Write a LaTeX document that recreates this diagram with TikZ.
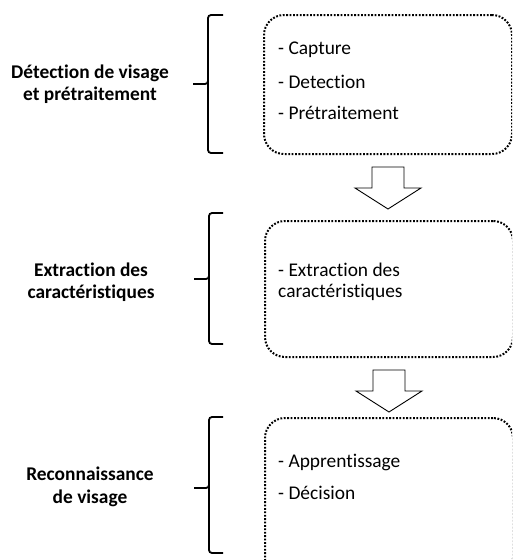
\documentclass[tikz,border=0pt]{standalone}
\usepackage{fontspec}
\setmainfont{Carlito}[Ligatures=NoCommon]
\usetikzlibrary{calc}

\begin{document}
\begin{tikzpicture}[x=1pt, y=-1pt, font=\fontsize{19.4}{22}\selectfont,
    stage/.style={draw, line width=2pt, dash pattern=on 1.8pt off 1.6pt, rounded corners=20pt, minimum width=248pt, anchor=north west, inner sep=0pt},
    item/.style={anchor=west, inner sep=0pt, align=left},
    phase/.style={align=center, font=\fontsize{19.4}{22.5}\selectfont\bfseries, inner sep=0pt},
    brace/.style={line width=1.8pt, rounded corners=3pt},
    flow/.style={draw, line width=0.9pt, fill=white}]

  \useasboundingbox (0,0) rectangle (512,560);
  \clip (0,0) rectangle (512,560);

  % stages
  \node[stage, minimum height=139pt] (b1) at (263,14) {};
  \node[stage, minimum height=136pt] (b2) at (264,220) {};
  \node[stage, minimum height=160pt] (b3) at (264,417) {};

  % contents
  \node[item] (c1) at (278,50) {- Capture};
  \node[item] (c2) at (278,82) {- Detection};
  \node[item] (c3) at (278,113) {- Prétraitement};
  \node[item] (e1) at (278,270) {- Extraction des};
  \node[item] (e2) at (278,292) {caractéristiques};
  \node[item] (r1) at (278,462) {- Apprentissage};
  \node[item] (r2) at (278,493) {- Décision};

  % phases
  \node[phase] (p1) at (90,84) {Détection de visage\\et prétraitement};
  \node[phase] (p2) at (91,282) {Extraction des\\caractéristiques};
  \node[phase] (p3) at (90,487) {Reconnaissance\\de visage};

  % braces
  \draw[brace] (223,15) -| (208,84) -- (193,84);
  \draw[brace] (208,80) |- (223,153);
  \draw[brace] (223,213) -| (209,279) -- (194,279);
  \draw[brace] (209,275) |- (223,344);
  \draw[brace] (223,417) -| (209,488) -- (194,488);
  \draw[brace] (209,484) |- (223,553);

  % flow arrows
  \foreach \a/\b in {b1/b2, b2/b3}
    \draw[flow] ($(\a.south)+(-16,12)$) -- ++(32,0) -- ++(0,21) -- ++(17,0)
      -- ($(\a.south)+(0,54)$) -- ($(\a.south)+(-33,33)$) -- ++(17,0) -- cycle;
\end{tikzpicture}
\end{document}
